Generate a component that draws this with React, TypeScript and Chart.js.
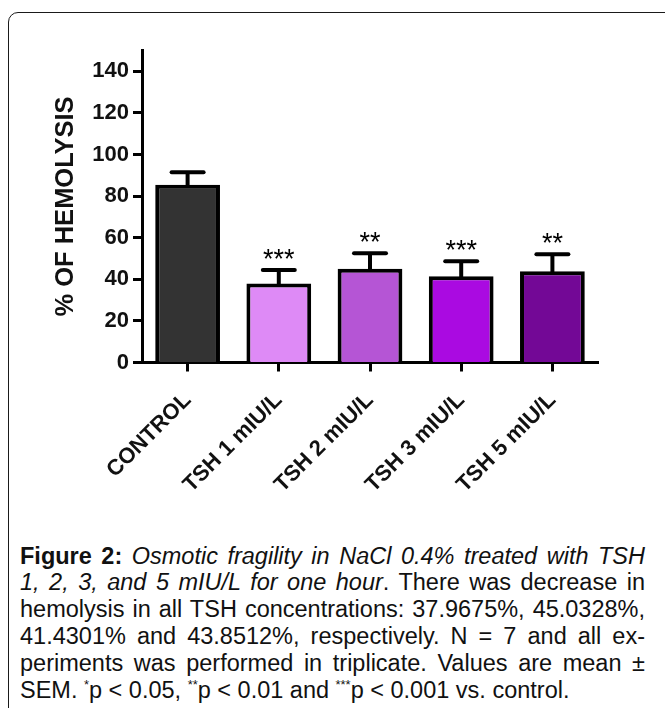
import React, { useEffect, useRef } from "react";
import { Chart, registerables } from "chart.js";

Chart.register(...registerables);

// ---- data ----
const categories = ["CONTROL", "TSH 1 mIU/L", "TSH 2 mIU/L", "TSH 3 mIU/L", "TSH 5 mIU/L"];
const means = [85.5, 37.9675, 45.0328, 41.4301, 43.8512];
const sems = [6.0, 6.5, 7.5, 7.2, 8.2];
const significance = ["", "***", "**", "***", "**"];
const barColors = ["#333333", "#DE8AF6", "#B555D5", "#AA0AE1", "#730896"];
const yTicks = [0, 20, 40, 60, 80, 100, 120, 140];
const yMax = 150;
const yTitle = "% OF HEMOLYSIS";

const FONT = "'Liberation Sans', Arial, Helvetica, sans-serif";

const errorBarPlugin = {
  id: "errorBars",
  afterDatasetsDraw(chart: any) {
    const { ctx } = chart;
    const y = chart.scales.y;
    const meta = chart.getDatasetMeta(0);
    ctx.save();
    ctx.strokeStyle = "#000";
    ctx.fillStyle = "#000";
    ctx.lineWidth = 4;
    meta.data.forEach((bar: any, i: number) => {
      const cx = bar.x;
      const top = y.getPixelForValue(means[i]);
      const capY = y.getPixelForValue(means[i] + sems[i]);
      ctx.beginPath();
      ctx.lineCap = "butt";
      ctx.moveTo(cx, top + 2);
      ctx.lineTo(cx, capY);
      ctx.stroke();
      ctx.beginPath();
      ctx.lineCap = "round";
      ctx.moveTo(cx - 16, capY);
      ctx.lineTo(cx + 16, capY);
      ctx.stroke();
      if (significance[i]) {
        ctx.font = `27px ${FONT}`;
        ctx.textAlign = "center";
        ctx.textBaseline = "alphabetic";
        ctx.fillText(significance[i], cx, capY - 2);
      }
    });
    ctx.restore();
  },
};

function BarChart() {
  const ref = useRef<HTMLCanvasElement | null>(null);
  useEffect(() => {
    if (!ref.current) return;
    const chart = new Chart(ref.current, {
      type: "bar",
      data: {
        labels: categories,
        datasets: [
          {
            data: means,
            backgroundColor: barColors,
            borderColor: "#000",
            borderWidth: 4,
            categoryPercentage: 1,
            barPercentage: 0.71,
          },
        ],
      },
      options: {
        responsive: false,
        animation: false,
        devicePixelRatio: 1,
        layout: { padding: { left: 0, top: 50.5, right: 67, bottom: 0 } },
        plugins: { legend: { display: false }, tooltip: { enabled: false } },
        scales: {
          x: {
            grid: {
              offset: false,
              drawOnChartArea: false,
              drawTicks: true,
              tickLength: 9,
              tickWidth: 3,
              tickColor: "#000",
            },
            border: { display: true, color: "#000", width: 3 },
            ticks: {
              autoSkip: false,
              maxRotation: 45,
              minRotation: 45,
              padding: 16,
              color: "#111",
              font: { family: FONT, size: 22, weight: "bold" },
            },
            afterFit(scale: any) {
              scale.height = 157.5;
            },
          },
          y: {
            min: 0,
            max: yMax,
            afterBuildTicks(scale: any) {
              scale.ticks = yTicks.map((v) => ({ value: v }));
            },
            grid: {
              drawOnChartArea: false,
              drawTicks: true,
              tickLength: 9,
              tickWidth: 3,
              tickColor: "#000",
            },
            border: { display: true, color: "#000", width: 3 },
            ticks: {
              padding: 4,
              color: "#111",
              font: { family: FONT, size: 22, weight: "bold" },
            },
            title: {
              display: true,
              text: yTitle,
              color: "#111",
              padding: { top: 51, bottom: 0 },
              font: { family: FONT, size: 25.5, weight: "bold" },
            },
            afterFit(scale: any) {
              scale.width = 142;
            },
          },
        },
      },
      plugins: [errorBarPlugin],
    });
    return () => chart.destroy();
  }, []);
  return (
    <canvas
      ref={ref}
      width={665}
      height={520}
      style={{ position: "absolute", left: 0, top: 0, width: 665, height: 520 }}
    />
  );
}

const lineStyle: React.CSSProperties = {
  textAlign: "justify",
  textAlignLast: "justify" as any,
  height: 26.8,
};

const supStyle: React.CSSProperties = { fontSize: "0.55em", verticalAlign: "0.7em", lineHeight: 0 };

export default function App() {
  return (
    <div
      style={{
        position: "fixed",
        left: 0,
        top: 0,
        width: 665,
        height: 708,
        overflow: "hidden",
        background: "#fff",
      }}
    >
      <div
        style={{
          position: "absolute",
          left: 8,
          top: 12,
          width: 800,
          height: 900,
          border: "1.5px solid #1a1a1a",
          borderRadius: 10,
          boxSizing: "border-box",
        }}
      />
      <BarChart />
      <div
        style={{
          position: "absolute",
          left: 20,
          top: 542.6,
          width: 625,
          fontFamily: FONT,
          fontSize: 23.5,
          lineHeight: "26.8px",
          color: "#111",
        }}
      >
        <div style={lineStyle}>
          <b>Figure 2:</b> <i>Osmotic fragility in NaCl 0.4% treated with TSH</i>
        </div>
        <div style={lineStyle}>
          <i>1, 2, 3, and 5 mIU/L for one hour</i>. There was decrease in
        </div>
        <div style={lineStyle}>hemolysis in all TSH concentrations: 37.9675%, 45.0328%,</div>
        <div style={lineStyle}>41.4301% and 43.8512%, respectively. N = 7 and all ex-</div>
        <div style={lineStyle}>periments was performed in triplicate. Values are mean ±</div>
        <div style={{ height: 26.8 }}>
          SEM. <span style={supStyle}>*</span>p &lt; 0.05, <span style={supStyle}>**</span>p &lt; 0.01 and{" "}
          <span style={supStyle}>***</span>p &lt; 0.001 vs. control.
        </div>
      </div>
    </div>
  );
}
